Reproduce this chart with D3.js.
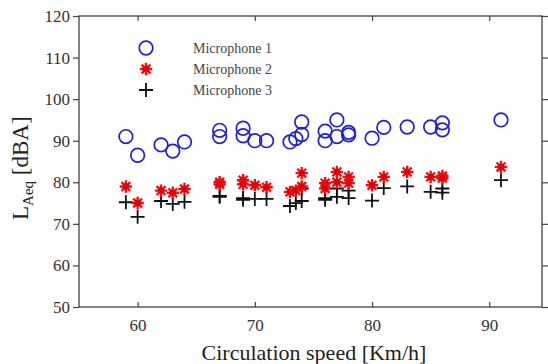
<!DOCTYPE html>
<html><head><meta charset="utf-8">
<script src="https://cdn.jsdelivr.net/npm/d3@7"></script>
<style>body{margin:0;background:#fff}svg{display:block}</style>
</head><body>
<svg id="chart" width="548" height="364"></svg>
<script>
const speeds = [59, 60, 62, 63, 64, 67, 67, 69, 69, 70, 71, 73, 73.5, 74, 74, 76, 76, 77, 77, 78, 78, 80, 81, 83, 85, 86, 86, 91];
const mic1 = [91, 86.5, 89, 87.5, 89.7, 92.5, 91, 93, 91.2, 90, 90, 89.7, 90.5, 94.5, 91.5, 92.3, 90, 95, 91, 92, 91.4, 90.6, 93.2, 93.3, 93.3, 94.3, 92.6, 95];
const mic2 = [79, 75, 78, 77.5, 78.4, 80, 79.5, 80.5, 79.5, 79.3, 78.8, 77.7, 78, 82.2, 79, 79.8, 78.5, 82.5, 80, 81.3, 79.8, 79.3, 81.3, 82.5, 81.3, 81.5, 81, 83.7];
const mic3 = [75.2, 71.7, 75.5, 74.8, 75.3, 76.7, 76.5, 76.2, 75.8, 76, 76, 74.3, 75, 78.5, 75.5, 76.2, 75.8, 78.5, 76.5, 78, 76.2, 75.6, 78.6, 79, 77.7, 78.5, 77.5, 80.5];
const seriesNames = ["Microphone 1", "Microphone 2", "Microphone 3"];
const xTicks = [60, 70, 80, 90];
const yTicks = [50, 60, 70, 80, 90, 100, 110, 120];

const svg = d3.select("#chart");
const L = 79, R = 542, T = 16, B = 307;
const x = d3.scaleLinear().domain([55, 94.5]).range([L, R]);
const y = d3.scaleLinear().domain([50, 120]).range([B, T]);
const serif = "Liberation Serif, Times New Roman, serif";

// frame
svg.append("rect").attr("x", L).attr("y", T).attr("width", R - L).attr("height", B - T)
  .attr("fill", "none").attr("stroke", "#333").attr("stroke-width", 1.2);

// axes via d3
const gx = svg.append("g").attr("transform", `translate(0,${B})`)
  .call(d3.axisBottom(x).tickValues(xTicks).tickSize(-5).tickPadding(12).tickFormat(d3.format("d")));
const gxTop = svg.append("g").attr("transform", `translate(0,${T})`)
  .call(d3.axisTop(x).tickValues(xTicks).tickSize(-5).tickFormat(""));
const gy = svg.append("g").attr("transform", `translate(${L},0)`)
  .call(d3.axisLeft(y).tickValues(yTicks).tickSize(6).tickPadding(3).tickFormat(d3.format("d")));
const gyR = svg.append("g").attr("transform", `translate(${R},0)`)
  .call(d3.axisRight(y).tickValues(yTicks).tickSize(6).tickFormat(""));
[gx, gxTop, gy, gyR].forEach(g => {
  g.attr("font-family", serif).attr("font-size", 17);
  g.select(".domain").remove();
  g.selectAll(".tick line").attr("stroke", "#444").attr("stroke-width", 1.2);
  g.selectAll("text").style("font-family", serif).attr("font-size", 17).attr("fill", "#333");
});

// y label
const yl = svg.append("text").attr("transform", "translate(28,220) rotate(-90)")
  .style("font-family", serif).attr("font-size", 23).attr("fill", "#222");
yl.append("tspan").text("L");
yl.append("tspan").attr("font-size", 15).attr("dy", 5).text("Aeq");
yl.append("tspan").attr("dy", -5).text(" [dBA]");

// x label
svg.append("text").attr("x", 314).attr("y", 360).attr("text-anchor", "middle")
  .style("font-family", serif).attr("font-size", 22).attr("fill", "#222")
  .text("Circulation speed [Km/h]");

// marker drawers
function circleMark(g) {
  g.append("circle").attr("r", 6.8).attr("fill", "none").attr("stroke", "#1f1fe0").attr("stroke-width", 1.7);
}
function starMark(g) {
  const r = 6.2;
  const d = [];
  for (let i = 0; i < 4; i++) {
    const a = i * Math.PI / 4;
    d.push(`M${(-r * Math.cos(a)).toFixed(2)},${(-r * Math.sin(a)).toFixed(2)}L${(r * Math.cos(a)).toFixed(2)},${(r * Math.sin(a)).toFixed(2)}`);
  }
  g.append("path").attr("d", d.join("")).attr("stroke", "#f01010").attr("stroke-width", 2.4).attr("fill", "none");
  g.append("circle").attr("r", 3).attr("fill", "#e00000");
}
function plusMark(g) {
  g.append("path").attr("d", "M-7,0L7,0M0,-7L0,7").attr("stroke", "#111").attr("stroke-width", 1.8).attr("fill", "none");
}
const drawers = [circleMark, starMark, plusMark];
const seriesVals = [mic1, mic2, mic3];

// draw series in order: mic3 (back), mic2, mic1
[2, 1, 0].forEach(si => {
  const g = svg.append("g");
  speeds.forEach((s, i) => {
    const m = g.append("g").attr("transform", `translate(${x(s)},${y(seriesVals[si][i])})`);
    drawers[si](m);
  });
});

// legend
const legY = [48, 69, 90];
seriesNames.forEach((n, i) => {
  const m = svg.append("g").attr("transform", `translate(146,${legY[i]})`);
  drawers[i](m);
  svg.append("text").attr("x", 193).attr("y", legY[i] + 5).style("font-family", serif)
    .attr("font-size", 14).attr("fill", "#444").text(n);
});
</script>
</body></html>
